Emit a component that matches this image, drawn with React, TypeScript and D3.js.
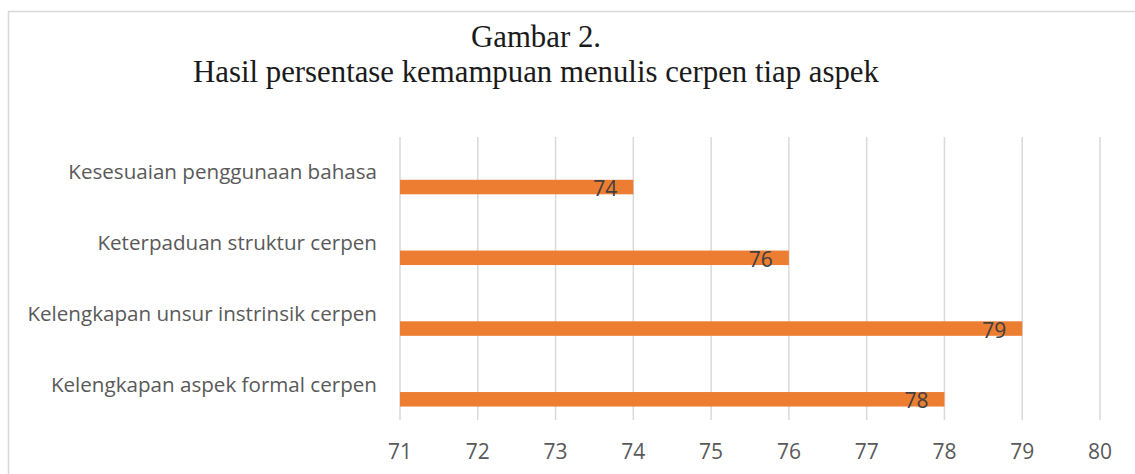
import { useEffect, useRef } from "react"
import * as d3 from "d3"

const categories = [
  "Kesesuaian penggunaan bahasa",
  "Keterpaduan struktur cerpen",
  "Kelengkapan unsur instrinsik cerpen",
  "Kelengkapan aspek formal cerpen",
]
const values = [74, 76, 79, 78]
const ticks = [71, 72, 73, 74, 75, 76, 77, 78, 79, 80]
const titleLines = ["Gambar 2.", "Hasil persentase kemampuan menulis cerpen tiap aspek"]

const W = 1135
const H = 474

const App = () => {
  const svgRef = useRef<SVGSVGElement>(null)

  useEffect(() => {
    const svg = d3.select(svgRef.current)
    svg.selectAll("*").remove()

    const plot = { left: 400, right: 1100, top: 137, bottom: 420 }
    const sans = "'Open Sans', Lato, sans-serif"

    // chart frame (runs off the right and bottom edge)
    svg
      .append("rect")
      .attr("x", 8.5)
      .attr("y", 11.5)
      .attr("width", W)
      .attr("height", H)
      .attr("fill", "white")
      .attr("stroke", "#d9d9d9")
      .attr("stroke-width", 1.5)

    svg
      .selectAll("text.title")
      .data(titleLines)
      .join("text")
      .attr("class", "title")
      .attr("x", 536)
      .attr("y", (d, i) => 47 + i * 34.5)
      .attr("text-anchor", "middle")
      .style("font-family", "'Liberation Serif', serif")
      .style("font-size", "30.8px")
      .style("fill", "#1a1a1a")
      .text((d) => d)

    const x = d3.scaleLinear().domain([71, 80]).range([plot.left, plot.right])
    const y = d3.scaleBand().domain(categories).range([plot.top, plot.bottom])

    // gridlines
    svg
      .append("g")
      .selectAll("line")
      .data(ticks)
      .join("line")
      .attr("x1", (d) => x(d))
      .attr("x2", (d) => x(d))
      .attr("y1", plot.top)
      .attr("y2", plot.bottom)
      .attr("stroke", "#d9d9d9")
      .attr("stroke-width", 1.5)

    // tick labels
    svg
      .append("g")
      .selectAll("text")
      .data(ticks)
      .join("text")
      .attr("x", (d) => x(d))
      .attr("y", 459)
      .attr("text-anchor", "middle")
      .style("font-family", sans)
      .style("font-size", "21px")
      .style("fill", "#595959")
      .text((d) => d)

    // category labels
    svg
      .append("g")
      .selectAll("text")
      .data(categories)
      .join("text")
      .attr("x", 377)
      .attr("y", (d) => y(d)! + y.bandwidth() / 2 + 7)
      .attr("text-anchor", "end")
      .style("font-family", sans)
      .style("font-size", "20.6px")
      .style("fill", "#595959")
      .text((d) => d)

    const barTop = (c: string) => y(c)! + y.bandwidth() * 0.605
    const barH = y.bandwidth() * 0.205

    svg
      .append("g")
      .selectAll("rect")
      .data(categories)
      .join("rect")
      .attr("x", x(71))
      .attr("y", (d) => barTop(d))
      .attr("width", (d, i) => x(values[i]) - x(71))
      .attr("height", barH)
      .attr("fill", "#ed7d31")

    // value labels
    svg
      .append("g")
      .selectAll("text")
      .data(categories)
      .join("text")
      .attr("x", (d, i) => x(values[i]) - 16)
      .attr("y", (d) => barTop(d) + barH / 2 + 9)
      .attr("text-anchor", "end")
      .style("font-family", sans)
      .style("font-size", "21px")
      .style("fill", "#404040")
      .text((d, i) => values[i])
  }, [])

  return (
    <svg
      ref={svgRef}
      width={W}
      height={H}
      style={{ position: "absolute", left: 0, top: 0, background: "white" }}
    ></svg>
  )
}

export default App
